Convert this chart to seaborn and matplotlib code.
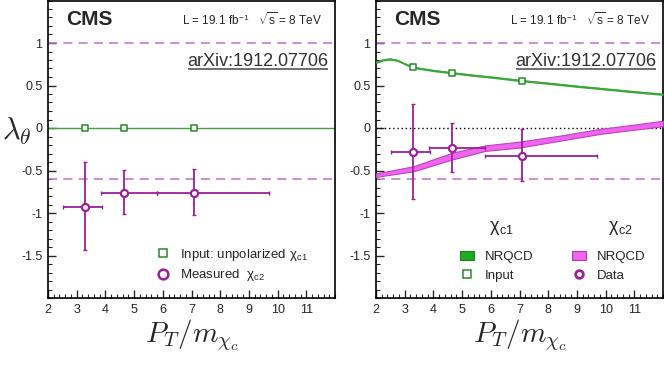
import numpy as np
import pandas as pd
import seaborn as sns
import matplotlib
import matplotlib.pyplot as plt
from matplotlib.lines import Line2D
from matplotlib.patches import Patch
from matplotlib.ticker import MultipleLocator

# --- data ---
pt_bins = [3.29, 4.64, 7.10]
pt_lo = [2.53, 3.86, 5.80]
pt_hi = [3.87, 5.80, 9.70]

# left panel: measured chi_c2 with unpolarized chi_c1 input
input_left = [0.0, 0.0, 0.0]
meas_left = [-0.93, -0.76, -0.77]
meas_left_lo = [-1.44, -1.01, -1.02]
meas_left_hi = [-0.40, -0.49, -0.48]

# right panel: NRQCD chi_c1 input
input_right = [0.712, 0.648, 0.555]
meas_right = [-0.28, -0.236, -0.326]
meas_right_lo = [-0.83, -0.515, -0.62]
meas_right_hi = [0.287, 0.058, -0.01]

# NRQCD chi_c1 curve
nrqcd1_x = [2.0, 2.25, 2.5, 2.75, 3.0, 3.3, 4.0, 4.66, 5.5, 6.0, 7.1, 8.0, 9.0, 10.15, 11.0, 12.0]
nrqcd1_y = [0.77, 0.80, 0.81, 0.795, 0.755, 0.712, 0.675, 0.648, 0.615, 0.598, 0.555, 0.525, 0.49, 0.453, 0.425, 0.395]
nrqcd1_hw = 0.012

# NRQCD chi_c2 band
nrqcd2_x = [2.0, 3.3, 4.66, 5.8, 7.0, 8.4, 9.8, 11.0, 12.0]
nrqcd2_up = [-0.535, -0.45, -0.29, -0.205, -0.16, -0.09, -0.01, 0.04, 0.085]
nrqcd2_dn = [-0.575, -0.51, -0.37, -0.27, -0.23, -0.15, -0.07, -0.02, 0.02]

green = '#3aa83a'
green_dark = '#2a8a2a'
purple = '#992299'
magenta = '#ee66ee'
dash_col = '#c070c8'

sns.set_style('ticks')
plt.rcParams['font.family'] = ['Liberation Sans', 'DejaVu Sans']
plt.rcParams['mathtext.fontset'] = 'cm'
plt.rcParams['xtick.direction'] = 'in'
plt.rcParams['ytick.direction'] = 'in'

fig = plt.figure(figsize=(6.64, 3.74), dpi=100)
ax1 = fig.add_axes([48 / 664, 76 / 374, 287 / 664, 297.5 / 374])
ax2 = fig.add_axes([376 / 664, 76 / 374, 287 / 664, 297.5 / 374])


def style_axis(ax):
    ax.set_xlim(2, 12)
    ax.set_ylim(-2, 1.5)
    ax.set_xticks(range(2, 12))
    ax.set_yticks([-1.5, -1, -0.5, 0, 0.5, 1])
    ax.set_yticklabels(['-1.5', '-1', '-0.5', '0', '0.5', '1'])
    ax.xaxis.set_minor_locator(MultipleLocator(0.2))
    ax.yaxis.set_minor_locator(MultipleLocator(0.1))
    ax.tick_params(which='major', length=6, width=1, labelsize=9, pad=4)
    ax.tick_params(which='minor', length=3, width=0.8)
    for s in ax.spines.values():
        s.set_linewidth(1.2)
        s.set_color('black')
    for yv in [1.0, -0.6]:
        ax.axhline(yv, color=dash_col, lw=1.1, ls=(0, (6, 4)), zorder=1)
    ax.text(0.063, 0.935, 'CMS', transform=ax.transAxes, fontsize=15,
            fontweight='bold', va='center', ha='left')
    ax.text(0.955, 0.935, r'L = 19.1 fb$^{\mathregular{-1}}$   $\sqrt{\mathregular{s}}$ = 8 TeV',
            transform=ax.transAxes, fontsize=8.5, va='center', ha='right')
    ax.text(0.976, 0.781, 'arXiv:1912.07706', transform=ax.transAxes, fontsize=13,
            va='baseline', ha='right', color='#333333')
    ax.plot([0.488, 0.976], [0.771, 0.771], transform=ax.transAxes,
            color='#555555', lw=1.2, solid_capstyle='butt')


def draw_points(ax, inp, meas, lo, hi):
    yerr = [np.array(meas) - np.array(lo), np.array(hi) - np.array(meas)]
    xerr = [np.array(pt_bins) - np.array(pt_lo), np.array(pt_hi) - np.array(pt_bins)]
    ax.errorbar(pt_bins, meas, xerr=xerr, yerr=yerr, fmt='none', ecolor=purple,
                elinewidth=1.3, capsize=1.5, capthick=1, zorder=4)
    df_m = pd.DataFrame({'x': pt_bins, 'y': meas})
    sns.scatterplot(data=df_m, x='x', y='y', ax=ax, marker='o', s=26,
                    facecolor='white', edgecolor=purple, linewidth=1.6, zorder=5)
    df_i = pd.DataFrame({'x': pt_bins, 'y': inp})
    sns.scatterplot(data=df_i, x='x', y='y', ax=ax, marker='s', s=24,
                    facecolor='white', edgecolor=green_dark, linewidth=1.1, zorder=5)


style_axis(ax1)
style_axis(ax2)

# left panel
ax1.axhline(0, color='#4a9a4a', lw=1.0, zorder=2)
draw_points(ax1, input_left, meas_left, meas_left_lo, meas_left_hi)
h_in = Line2D([], [], marker='s', ls='none', mfc='white', mec=green_dark, ms=6, mew=1.1)
h_me = Line2D([], [], marker='o', ls='none', mfc='white', mec=purple, ms=7, mew=1.8)
ax1.legend([h_in, h_me], ['Input: unpolarized χ$_{\\mathregular{c1}}$',
                          'Measured  χ$_{\\mathregular{c2}}$'],
           loc='lower left', bbox_to_anchor=(0.33, 0.01), frameon=False,
           fontsize=9.5, handlelength=1.2, handletextpad=0.7, labelspacing=0.35)

# right panel
ax2.axhline(0, color='black', lw=1.0, ls=(0, (1, 2)), zorder=2)
ax2.fill_between(nrqcd2_x, nrqcd2_dn, nrqcd2_up, color=magenta, ec='#c040c0', lw=0.8, zorder=3)
ax2.fill_between(nrqcd1_x, np.array(nrqcd1_y) - nrqcd1_hw, np.array(nrqcd1_y) + nrqcd1_hw,
                 color=green, lw=0, zorder=3)
sns.lineplot(x=nrqcd1_x, y=nrqcd1_y, ax=ax2, color=green, lw=1.2, zorder=3)
draw_points(ax2, input_right, meas_right, meas_right_lo, meas_right_hi)

p1 = Patch(facecolor='#22aa22', edgecolor='#118811', lw=0.8)
p2 = Patch(facecolor=magenta, edgecolor='#bb33bb', lw=0.8)
h_in2 = Line2D([], [], marker='s', ls='none', mfc='white', mec=green_dark, ms=5.5, mew=1.1)
h_da = Line2D([], [], marker='o', ls='none', mfc='white', mec=purple, ms=5.5, mew=2.0)
leg1 = ax2.legend([p1, h_in2], ['NRQCD', 'Input'], loc='lower left',
                  bbox_to_anchor=(0.25, 0.015), frameon=False, fontsize=9.5,
                  handlelength=1.1, handleheight=0.6, handletextpad=0.8, labelspacing=0.5)
ax2.add_artist(leg1)
ax2.legend([p2, h_da], ['NRQCD', 'Data'], loc='lower left',
           bbox_to_anchor=(0.64, 0.015), frameon=False, fontsize=9.5,
           handlelength=1.1, handleheight=0.6, handletextpad=0.8, labelspacing=0.5)
ax2.text(0.395, 0.235, 'χ$_{\\mathregular{c1}}$', transform=ax2.transAxes, fontsize=13, va='center')
ax2.text(0.81, 0.235, 'χ$_{\\mathregular{c2}}$', transform=ax2.transAxes, fontsize=13, va='center')

for ax in (ax1, ax2):
    ax.set_xlabel(r'$P_T/m_{\chi_c}$', fontsize=21, labelpad=1)
    ax.set_ylabel('')

fig.text(17 / 664, 1 - 131 / 374, r'$\lambda_\theta$', fontsize=22, ha='center', va='center')

fig.savefig('out.png', dpi=100)
